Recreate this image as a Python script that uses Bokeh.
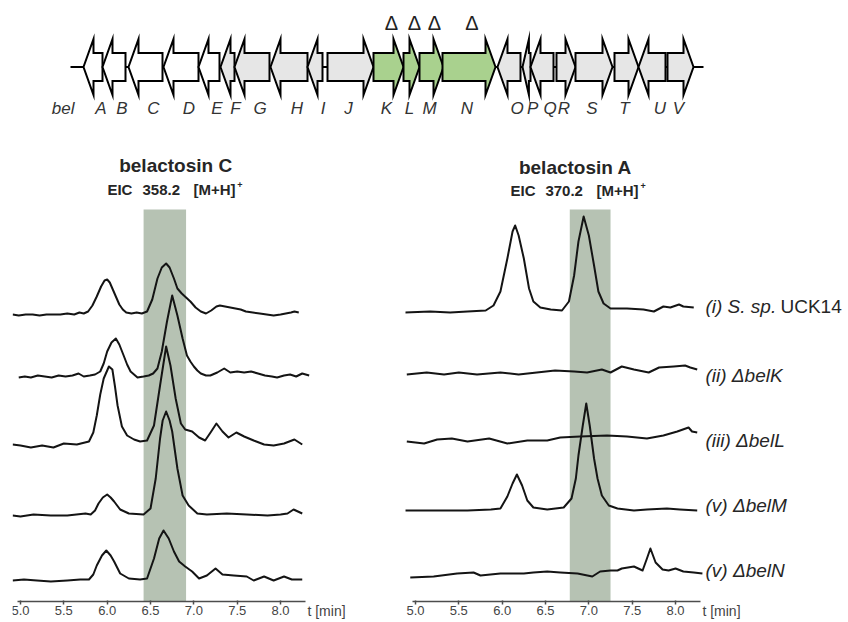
from bokeh.plotting import figure
from bokeh.layouts import column, row
from bokeh.models import Range1d, FixedTicker, NumeralTickFormatter
from bokeh.embed import file_html
from bokeh.resources import INLINE
from bokeh.core.properties import value

FONT = "Liberation Sans"

# ---------------- gene cluster (map units) ----------------
GENE_NAMES = list("ABCDEFGHIJKLMNOPQRSTUV")
GENE_START = [83, 102, 128, 163, 198, 220, 234, 270, 307, 327, 373, 403, 419, 442,
              497, 522, 530, 556, 575, 614, 638, 667]
GENE_END = [102, 125, 162, 198, 219, 234, 269, 307, 322, 373, 403, 419, 443, 495,
            520, 530, 553, 575, 612, 638, 665, 693]
GENE_STRAND = [-1, -1, -1, -1, -1, -1, -1, -1, -1, 1, 1, 1, 1, 1,
               -1, -1, -1, 1, 1, 1, -1, 1]
GENE_GROUP = ["flank"] * 5 + ["cluster"] * 5 + ["deleted"] * 4 + ["cluster"] * 8
DELETED = ["K", "L", "M", "N"]
CLUSTER_SPAN = (70, 703)

# ---------------- chromatograms ----------------
TICKS = [5.0, 5.5, 6.0, 6.5, 7.0, 7.5, 8.0]
BAND_C = (6.42, 6.91)
BAND_A = (6.78, 7.25)
OFFSETS_C = [287, 225, 157, 86, 21]
OFFSETS_A = [290, 228, 160, 91, 25]
LABELS = ["(i) S. sp.", "(ii) \u0394belK", "(iii) \u0394belL", "(v) \u0394belM", "(v) \u0394belN"]

# belactosin C, EIC 358.2
C1_T = [4.91, 4.98, 5.06, 5.14, 5.22, 5.30, 5.38, 5.46, 5.54, 5.62, 5.68, 5.73, 5.78, 5.83, 5.88,
        5.93, 5.97, 6.00, 6.03, 6.07, 6.10, 6.14, 6.18, 6.22, 6.28, 6.34, 6.40, 6.46, 6.52, 6.58,
        6.63, 6.68, 6.72, 6.77, 6.81, 6.86, 6.91, 6.96, 7.02, 7.08, 7.14, 7.20, 7.26, 7.30, 7.36,
        7.42, 7.48, 7.54, 7.60, 7.68, 7.76, 7.84, 7.92, 8.00, 8.06, 8.12, 8.16, 8.21]
C1_I = [0, -1, 0, 0, -1, 0, 0, 0, 1, 0, 2, 1, 3, 9, 18,
        28, 34, 35, 32, 24, 18, 10, 5, 2, 1, 2, 1, 3, 15, 36,
        47, 51, 47, 36, 26, 21, 17, 13, 7, 3, 1, 4, 8, 9, 8,
        7, 6, 5, 3, 2, 1, 0, -1, 0, 1, 2, 3, 2]

C2_T = [4.98, 5.05, 5.12, 5.20, 5.28, 5.36, 5.44, 5.52, 5.60, 5.67, 5.73, 5.80, 5.86, 5.92, 5.96,
        6.00, 6.05, 6.10, 6.14, 6.19, 6.23, 6.27, 6.35, 6.42, 6.48, 6.53, 6.58, 6.63, 6.69, 6.75,
        6.81, 6.87, 6.92, 6.96, 7.00, 7.04, 7.08, 7.14, 7.19, 7.27, 7.35, 7.42, 7.50, 7.58, 7.66,
        7.74, 7.82, 7.90, 7.96, 8.04, 8.11, 8.18, 8.25, 8.33]
C2_I = [-1, 0, -1, 1, 0, -1, 1, 0, 1, 3, 0, 1, 2, 5, 13,
        25, 34, 38, 32, 21, 12, 5, -1, 0, 1, 3, 8, 25, 55, 81,
        61, 38, 21, 15, 10, 6, 3, 1, 1, 4, 8, 4, 5, 4, 5,
        3, 1, 0, -1, 1, 2, 0, 3, 1]

C3_T = [4.91, 5.00, 5.12, 5.25, 5.38, 5.50, 5.65, 5.79, 5.84, 5.88, 5.92, 5.96, 6.02, 6.06, 6.09,
        6.12, 6.17, 6.23, 6.31, 6.38, 6.46, 6.54, 6.61, 6.68, 6.73, 6.79, 6.85, 6.90, 6.98, 7.06,
        7.13, 7.20, 7.26, 7.33, 7.40, 7.49, 7.58, 7.69, 7.81, 7.92, 8.04, 8.16, 8.25]
C3_I = [0, -1, -3, -1, -3, 1, 0, 3, 12, 29, 50, 66, 78, 75, 58,
        39, 18, 9, 5, 3, 4, 19, 59, 98, 79, 46, 21, 15, 13, 7,
        4, 13, 21, 13, 7, 12, 8, 4, 0, -1, 1, 5, 0]

C4_T = [4.91, 5.00, 5.15, 5.35, 5.54, 5.75, 5.81, 5.86, 5.90, 5.95, 6.00, 6.04, 6.08, 6.15, 6.25,
        6.42, 6.50, 6.56, 6.61, 6.64, 6.68, 6.72, 6.75, 6.81, 6.87, 6.94, 7.04, 7.15, 7.38, 7.61,
        7.85, 8.00, 8.08, 8.15, 8.25]
C4_I = [0, -1, 1, 0, 0, 2, 1, 5, 12, 18, 21, 18, 14, 6, 2,
        1, 7, 37, 77, 95, 104, 95, 84, 47, 20, 10, 2, 1, 2, 1,
        0, 1, 2, 6, 2]

C5_T = [4.91, 5.04, 5.19, 5.35, 5.54, 5.69, 5.79, 5.84, 5.88, 5.94, 5.99, 6.04, 6.08, 6.15, 6.25,
        6.38, 6.46, 6.54, 6.60, 6.65, 6.71, 6.77, 6.83, 6.90, 6.98, 7.06, 7.15, 7.25, 7.33, 7.46,
        7.61, 7.69, 7.81, 7.92, 8.04, 8.13, 8.25]
C5_I = [0, 1, 0, -1, 0, 1, 1, 6, 15, 25, 30, 25, 19, 7, 2,
        1, 2, 22, 42, 50, 42, 29, 19, 14, 9, 2, 5, 12, 6, 5,
        4, 0, 4, 0, 4, 1, 1]

# belactosin A, EIC 370.2
A1_T = [4.87, 5.17, 5.40, 5.60, 5.81, 5.90, 5.98, 6.06, 6.12, 6.15, 6.19, 6.25, 6.31, 6.36, 6.44,
        6.56, 6.69, 6.77, 6.83, 6.88, 6.94, 7.00, 7.06, 7.11, 7.17, 7.25, 7.44, 7.63, 7.75, 7.86,
        7.94, 8.04, 8.09, 8.21]
A1_I = [-1, 0, -1, 0, 1, 6, 20, 53, 80, 86, 76, 53, 23, 10, 4,
        2, 1, 10, 36, 70, 95, 76, 46, 20, 8, 3, 3, 2, 0, 5,
        4, 7, 5, 4]

A2_T = [4.90, 5.13, 5.33, 5.50, 5.71, 5.98, 6.19, 6.40, 6.61, 6.83, 6.98, 7.15, 7.25, 7.38, 7.52,
        7.69, 7.81, 7.98, 8.11, 8.17, 8.25]
A2_I = [-1, 1, -1, 1, -1, 1, -1, 1, 3, 2, 1, 4, 1, 7, 4,
        1, 6, 7, 8, 6, 4]

A3_T = [4.90, 5.10, 5.25, 5.42, 5.60, 5.85, 6.06, 6.29, 6.52, 6.67, 6.90, 7.21, 7.44, 7.67, 7.86,
        8.02, 8.15, 8.19, 8.25]
A3_I = [0, -2, 2, 3, 0, 3, -2, 1, 1, 4, 5, 6, 5, 3, 6,
        10, 14, 10, 9]

A4_T = [4.88, 5.21, 5.60, 5.87, 5.98, 6.06, 6.12, 6.17, 6.23, 6.29, 6.36, 6.52, 6.71, 6.80, 6.85,
        6.88, 6.93, 6.97, 7.01, 7.06, 7.10, 7.15, 7.23, 7.33, 7.52, 7.67, 7.90, 8.05, 8.25]
A4_I = [0, 0, 0, 1, 2, 14, 27, 36, 25, 10, 3, 1, 3, 12, 32,
        55, 85, 107, 85, 52, 32, 15, 5, 2, 0, 1, 2, 1, 0]

A5_T = [4.94, 5.21, 5.48, 5.67, 5.75, 5.98, 6.25, 6.36, 6.52, 6.67, 6.87, 7.04, 7.13, 7.25, 7.33,
        7.38, 7.52, 7.62, 7.67, 7.71, 7.77, 7.85, 7.92, 8.00, 8.09, 8.21, 8.31]
A5_I = [-1, 0, 3, 4, 1, 3, 3, 4, 5, 4, 3, 0, 5, 6, 6,
        8, 10, 6, 18, 28, 14, 7, 6, 8, 5, 4, 3]

TRACES_C = [(C1_T, C1_I), (C2_T, C2_I), (C3_T, C3_I), (C4_T, C4_I), (C5_T, C5_I)]
TRACES_A = [(A1_T, A1_I), (A2_T, A2_I), (A3_T, A3_I), (A4_T, A4_I), (A5_T, A5_I)]

GROUP_COLORS = {"flank": "#ffffff", "cluster": "#e6e6e6", "deleted": "#a9d18e"}
BAND_COLOR = "#b6c2b3"
LINE_COLOR = "#141414"
TEXT_COLOR = "#262626"

# ---------------- gene map figure ----------------
top = figure(width=848, height=130, x_range=Range1d(0, 848), y_range=Range1d(130, 0),
             output_backend="svg", toolbar_location=None,
             x_axis_location=None, y_axis_location=None,
             min_border_left=0, min_border_right=0, min_border_top=0, min_border_bottom=0)
top.grid.visible = False
top.outline_line_color = None

cy = 66.5
body, barb, head = 14, 28, 10
top.line(x=list(CLUSTER_SPAN), y=[cy, cy], line_color="black", line_width=2)

xs, ys, fills, lab_x = [], [], [], []
for s, e, d, g in zip(GENE_START, GENE_END, GENE_STRAND, GENE_GROUP):
    hl = min(head, 0.8 * (e - s))
    if d > 0:
        neck = e - hl
        px = [s, neck, neck, e, neck, neck, s]
        lab_x.append((s + neck) / 2 + 3)
    else:
        neck = s + hl
        px = [e, neck, neck, s, neck, neck, e]
        lab_x.append((e + neck) / 2 + 3)
    py = [cy - body, cy - body, cy - barb, cy, cy + barb, cy + body, cy + body]
    xs.append(px)
    ys.append(py)
    fills.append(GROUP_COLORS[g])

top.patches(xs=xs, ys=ys, fill_color=fills, line_color="black", line_width=2, line_join="miter")
top.text(x=lab_x, y=[108] * len(lab_x), text=GENE_NAMES, text_font=value(FONT),
         text_font_style="italic", text_font_size="17px", text_color="#333333",
         text_align="center", text_baseline="middle")
top.text(x=[74], y=[108], text=["bel"], text_font=value(FONT), text_font_style="italic",
         text_font_size="17px", text_color="#333333", text_align="right", text_baseline="middle")
del_x = [(GENE_START[GENE_NAMES.index(n)] + GENE_END[GENE_NAMES.index(n)]) / 2 + 3 for n in DELETED]
top.text(x=del_x, y=[22] * len(del_x), text=["\u0394"] * len(del_x), text_font=value(FONT),
         text_font_size="20px", text_color="#222222", text_align="center", text_baseline="middle")


# ---------------- chromatogram panels ----------------
def panel(width, x0, x1, border_left, border_right):
    p = figure(width=width, height=492, x_range=Range1d(x0, x1), y_range=Range1d(-21, 471),
               output_backend="svg", toolbar_location=None, y_axis_location=None,
               min_border_left=border_left, min_border_right=border_right,
               min_border_top=0, min_border_bottom=0)
    p.grid.visible = False
    p.outline_line_color = None
    ax = p.xaxis[0]
    ax.fixed_location = 0
    ax.ticker = FixedTicker(ticks=TICKS)
    ax.formatter = NumeralTickFormatter(format="0.0")
    ax.bounds = (4.96, 8.29)
    ax.axis_line_color = "#4d4d4d"
    ax.axis_line_width = 1.5
    ax.major_tick_line_color = "#4d4d4d"
    ax.major_tick_line_width = 1.5
    ax.major_tick_in = 1
    ax.major_tick_out = 3
    ax.minor_tick_line_color = None
    ax.major_label_standoff = 1
    ax.major_label_text_font = FONT
    ax.major_label_text_font_size = "13px"
    ax.major_label_text_color = "#444444"
    p.text(x=[8.31], y=[-9], text=["t [min]"], text_font=value(FONT), text_font_size="14px",
           text_color="#444444", text_baseline="middle", text_align="left")
    return p


left = panel(395, 4.908, 9.268, 12, 5)
right = panel(453, 4.885, 9.995, 10, 0)

left.quad(left=BAND_C[0], right=BAND_C[1], bottom=0, top=392, fill_color=BAND_COLOR, line_color=None)
right.quad(left=BAND_A[0], right=BAND_A[1], bottom=0, top=392, fill_color=BAND_COLOR, line_color=None)

for (t, i), off in zip(TRACES_C, OFFSETS_C):
    left.line(x=t, y=[off + v for v in i], line_color=LINE_COLOR, line_width=2, line_join="round")
for (t, i), off in zip(TRACES_A, OFFSETS_A):
    right.line(x=t, y=[off + v for v in i], line_color=LINE_COLOR, line_width=2, line_join="round")

# titles
left.text(x=[6.79], y=[436], text=["belactosin C"], text_font=value(FONT), text_font_style="bold",
          text_font_size="19px", text_color=TEXT_COLOR, text_align="center", text_baseline="middle")
left.text(x=[6.003, 6.407, 6.995], y=[412] * 3, text=["EIC", "358.2", "[M+H]"], text_font=value(FONT),
          text_font_style="bold", text_font_size="15px", text_color=TEXT_COLOR,
          text_align="left", text_baseline="middle")
left.text(x=[7.50], y=[417], text=["+"], text_font=value(FONT), text_font_style="bold",
          text_font_size="9px", text_color=TEXT_COLOR, text_align="left", text_baseline="middle")

right.text(x=[6.845], y=[434], text=["belactosin A"], text_font=value(FONT), text_font_style="bold",
           text_font_size="19px", text_color=TEXT_COLOR, text_align="center", text_baseline="middle")
right.text(x=[6.096, 6.499, 7.088], y=[411] * 3, text=["EIC", "370.2", "[M+H]"], text_font=value(FONT),
           text_font_style="bold", text_font_size="15px", text_color=TEXT_COLOR,
           text_align="left", text_baseline="middle")
right.text(x=[7.595], y=[416], text=["+"], text_font=value(FONT), text_font_style="bold",
           text_font_size="9px", text_color=TEXT_COLOR, text_align="left", text_baseline="middle")

# strain labels
label_y = [295, 226, 161, 96, 31]
right.text(x=[8.345] * 5, y=label_y, text=LABELS, text_font=value(FONT),
           text_font_style="italic", text_font_size="19px", text_color=TEXT_COLOR,
           text_align="left", text_baseline="middle")
right.text(x=[9.21], y=[label_y[0]], text=["UCK14"], text_font=value(FONT),
           text_font_size="19px", text_color=TEXT_COLOR, text_align="left", text_baseline="middle")

layout = column(top, row(left, right, spacing=0), spacing=0)
open("out.html", "w").write(file_html(layout, INLINE))
